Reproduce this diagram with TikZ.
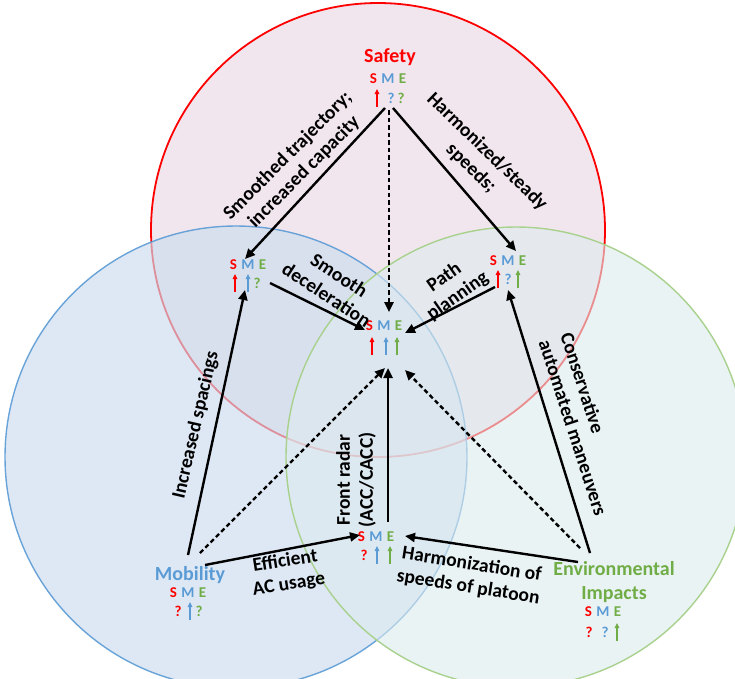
\documentclass[tikz,border=0pt]{standalone}
\usepackage{fontspec}
\setmainfont{Carlito}
\usetikzlibrary{arrows.meta,calc}
\definecolor{cred}{HTML}{FF0000}
\definecolor{cblue}{HTML}{5B9BD5}
\definecolor{cgreen}{HTML}{70AD47}
\definecolor{redfill}{HTML}{F1E6EE}
\definecolor{bluefill}{HTML}{CCDDEF}
\definecolor{greenfill}{HTML}{DDEBEE}
\definecolor{greenline}{HTML}{A9D18E}
\newcommand\SMEtri[3]{%
  \node[let,text=cred] (#1S) at ({#2-14.5},#3) {S};
  \node[let,text=cblue] (#1M) at (#2,#3) {M};
  \node[let,text=cgreen] (#1E) at ({#2+14.5},#3) {E};}
\newcommand\upa[3]{\draw[sar,#1] (#2,{#3+9}) -- (#2,{#3-9});}
\newcommand\qmark[4]{\node[let,text=#1] (#4) at (#2,#3) {?};}
\begin{document}
\begin{tikzpicture}[x=1pt,y=-1pt,
  lbl/.style={font=\fontsize{19.5}{23}\selectfont\bfseries, align=center, inner sep=0pt},
  ttl/.style={font=\fontsize{20}{24}\selectfont\bfseries, align=center, inner sep=0pt},
  let/.style={font=\fontsize{15}{16}\selectfont\bfseries, inner sep=0pt},
  conn/.style={line width=2.4pt, -{Triangle[length=10pt,width=9pt]}},
  dconn/.style={conn, dash pattern=on 4.5pt off 3pt},
  sar/.style={line width=1.3pt, -{Triangle[length=5pt,width=4.5pt]}},
  hub/.style={inner sep=0pt, minimum size=2pt}
]
\useasboundingbox (0,0) rectangle (735,678);
\fill[white] (0,0) rectangle (735,678);
\clip (0,0) rectangle (735,678);
% circles
\draw[cred, line width=1.8pt, fill=redfill] (378,230) circle[radius=227pt];
\draw[cblue, line width=1.4pt, fill=bluefill, fill opacity=0.65, draw opacity=0.9] (236,457) circle[radius=231pt];
\draw[greenline, line width=1.4pt, fill=greenfill, fill opacity=0.6] (516,457) circle[radius=230pt];
% titles
\node[ttl, text=cred] (safety) at (390,57) {Safety};
\node[ttl, text=cblue] (mobility) at (190,575) {Mobility};
\node[ttl, text=cgreen] (environment) at (614,582) {Environmental\\Impacts};
% SME clusters
\SMEtri{t}{388}{79}
\upa{cred}{377}{98} \qmark{cblue}{391}{98}{tq1} \qmark{cgreen}{401}{98}{tq2}
\SMEtri{l}{248}{265}
\upa{cred}{235}{283} \upa{cblue}{248}{283} \qmark{cgreen}{257}{283}{lq1}
\SMEtri{c}{384}{326}
\upa{cred}{372}{346} \upa{cblue}{386}{346} \upa{cgreen}{397}{346}
\SMEtri{r}{508}{261}
\upa{cred}{498}{279} \qmark{cblue}{508}{279}{rq1} \upa{cgreen}{518}{279}
\SMEtri{m}{188}{593}
\qmark{cred}{178}{611}{mq1} \upa{cblue}{190}{611} \qmark{cgreen}{199}{611}{mq2}
\SMEtri{b}{376}{537}
\qmark{cred}{364}{555}{bq1} \upa{cblue}{377}{555} \upa{cgreen}{390}{555}
\SMEtri{e}{603}{612}
\qmark{cred}{589}{632}{eq1} \qmark{cblue}{605}{632}{eq2} \upa{cgreen}{617}{632}
% hubs
\node[hub] (top) at (388,88) {};
\node[hub] (left) at (248,274) {};
\node[hub] (ctr) at (384,336) {};
\node[hub] (right) at (508,270) {};
\node[hub] (mob) at (190,590) {};
\node[hub] (bot) at (378,546) {};
\node[hub] (env) at (605,600) {};
% connectors
\draw[conn] ($(top)+(-3,20)$) -- ($(left)+(-3,-15)$);
\draw[conn] ($(top)+(5,20)$) -- ($(right)+(8,-19)$);
\draw[dconn] ($(top)+(1,22)$) -- ($(ctr)+(5,-24)$);
\draw[conn] ($(left)+(22,9)$) -- ($(ctr)+(-19,-6)$);
\draw[conn] ($(right)+(-13,17)$) -- ($(ctr)+(21,-3)$);
\draw[conn] ($(mob)+(-2,-35)$) -- ($(left)+(-3,16)$);
\draw[dconn] ($(mob)+(10,-37)$) -- ($(ctr)+(1,32)$);
\draw[conn] ($(bot)+(10,-24)$) -- ($(ctr)+(4,32)$);
\draw[dconn] ($(env)+(-25,-52)$) -- ($(ctr)+(21,34)$);
\draw[conn] ($(env)+(-15,-47)$) -- ($(right)+(0,20)$);
\draw[conn] ($(mob)+(15,-25)$) -- ($(bot)+(-18,-11)$);
\draw[conn] ($(env)+(-27,-38)$) -- ($(bot)+(27,-10)$);
% labels
\node[lbl, rotate=45] (l1) at (296,164) {Smoothed trajectory;\\increased capacity};
\node[lbl, rotate=-44] (l2) at (479,160) {Harmonized/steady\\speeds;};
\node[lbl, rotate=-33] (l3) at (333,285) {Smooth\\deceleration};
\node[lbl, rotate=35] (l4) at (451,287) {Path\\planning};
\node[lbl, rotate=77] (l5) at (196,425) {Increased spacings};
\node[lbl, rotate=90] (l6) at (356,480) {Front radar\\(ACC/CACC)};
\node[lbl, rotate=-72, align=left] (l7) at (584,424) {Conservative\\automated maneuvers};
\node[lbl, rotate=9] (l8) at (287,573) {Efficient\\AC usage};
\node[lbl, rotate=-9] (l9) at (470,576) {Harmonization of\\speeds of platoon};
\end{tikzpicture}
\end{document}
